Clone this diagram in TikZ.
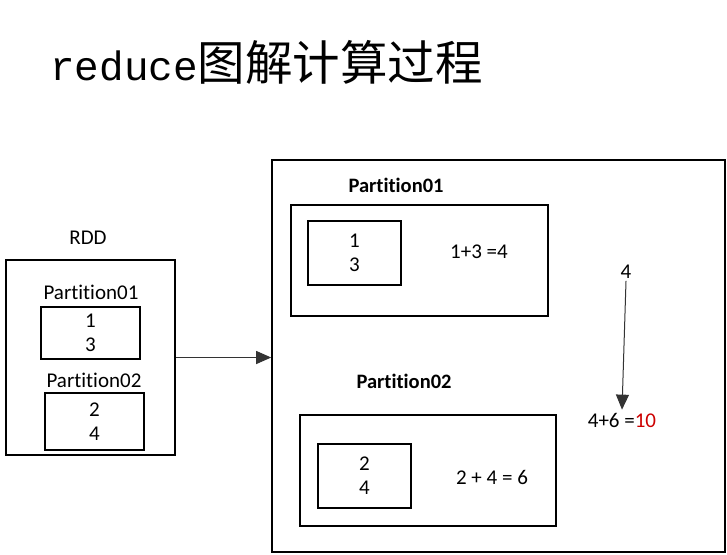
\documentclass[tikz,border=0pt]{standalone}
\usepackage{fontspec}
\setmainfont{Carlito}[Ligatures=NoCommon]
\newfontfamily\cjk{Noto Sans CJK SC}
\newfontfamily\monofont{Liberation Mono}
\definecolor{SumRed}{RGB}{204,0,0}
\usepackage{tikz}
\usetikzlibrary{
    arrows.meta,
    positioning,
    calc,
}

\begin{document}
\begin{tikzpicture}[x=1pt, y=-1pt,
        box/.style={draw, line width=1.6pt, rectangle, inner sep=0pt},
        lbl/.style={font=\fontsize{21}{24}\selectfont, align=center, inner sep=0pt},
        flow/.style={draw=black!80, line width=1pt, -{Triangle[length=15pt,width=13pt]}},
    ]
        \useasboundingbox (0,0) rectangle (727,554);
        % title
        \node[anchor=west, inner sep=0pt] (title) at (50,62) {\monofont\fontsize{41}{48}\selectfont reduce\cjk\fontsize{47.5}{50}\selectfont 图解计算过程};
        % left RDD
        \node[box, minimum width=169, minimum height=195] (rdd) at (90.5,357.5) {};
        \node[lbl] (rddlbl) at (88,238) {RDD};
        \node[lbl] (lp1lbl) at (91,292) {Partition01};
        \node[box, lbl, minimum width=99, minimum height=52] (lp1) at (90.5,333) {1\\3};
        \node[lbl] (lp2lbl) at (94,380) {Partition02};
        \node[box, lbl, minimum width=99, minimum height=57] (lp2) at (94.5,421.5) {2\\4};
        % right side
        \node[box, minimum width=453, minimum height=392] (big) at (498.5,356) {};
        \draw[flow] (rdd.east) -- (rdd.east -| big.west);
        \node[lbl, font=\fontsize{20.5}{24}\selectfont\bfseries] (rp1lbl) at (396,185) {Partition01};
        \node[box, minimum width=257, minimum height=111] (rp1) at (419.5,260.5) {};
        \node[box, lbl, minimum width=93, minimum height=64] (rp1in) at (354.5,253) {1\\3};
        \node[lbl] (sum1) at (479,252) {1+3 =4};
        \node[lbl, font=\fontsize{20.5}{24}\selectfont\bfseries] (rp2lbl) at (404,381) {Partition02};
        \node[box, minimum width=256, minimum height=111] (rp2) at (428,470.5) {};
        \node[box, lbl, minimum width=93, minimum height=64] (rp2in) at (364.5,476) {2\\4};
        \node[lbl] (sum2) at (492,477) {2 + 4 = 6};
        \node[lbl] (part) at (626,272) {4};
        \node[lbl] (total) at (622,420) {4+6 =\textcolor{SumRed}{10}};
        \draw[flow] (part.south) ++(0,2) coordinate (ptop) -- ($(total.north)+(0,-3)$);
    \end{tikzpicture}
\end{document}
